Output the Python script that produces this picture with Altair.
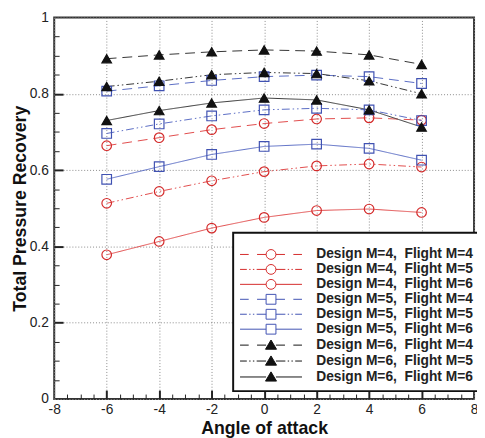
import altair as alt
import pandas as pd

# ---------------- data ----------------
aoa = [-6, -4, -2, 0, 2, 4, 6]
series = [
    "Design M=4,\u00a0 Flight M=4",
    "Design M=4,\u00a0 Flight M=5",
    "Design M=4,\u00a0 Flight M=6",
    "Design M=5,\u00a0 Flight M=4",
    "Design M=5,\u00a0 Flight M=5",
    "Design M=5,\u00a0 Flight M=6",
    "Design M=6,\u00a0 Flight M=4",
    "Design M=6,\u00a0 Flight M=5",
    "Design M=6,\u00a0 Flight M=6",
]
d4f4 = [0.664, 0.685, 0.706, 0.722, 0.734, 0.737, 0.731]
d4f5 = [0.513, 0.544, 0.572, 0.596, 0.611, 0.616, 0.608]
d4f6 = [0.378, 0.413, 0.448, 0.476, 0.494, 0.498, 0.489]
d5f4 = [0.807, 0.821, 0.835, 0.845, 0.849, 0.845, 0.827]
d5f5 = [0.696, 0.721, 0.742, 0.758, 0.762, 0.758, 0.730]
d5f6 = [0.576, 0.609, 0.641, 0.662, 0.668, 0.657, 0.626]
d6f4 = [0.892, 0.902, 0.910, 0.915, 0.912, 0.902, 0.877]
d6f5 = [0.819, 0.833, 0.850, 0.856, 0.853, 0.834, 0.800]
d6f6 = [0.730, 0.756, 0.776, 0.789, 0.784, 0.758, 0.713]
values = [d4f4, d4f5, d4f6, d5f4, d5f5, d5f6, d6f4, d6f5, d6f6]

x_labels = [-8, -6, -4, -2, 0, 2, 4, 6, 8]
y_labels = [0, 0.2, 0.4, 0.6, 0.8, 1]
x_major = [-6, -4, -2, 0, 2, 4, 6]
y_major = [0.2, 0.4, 0.6, 0.8]
x_minor = [v / 2 for v in range(-15, 16) if v % 4 != 0]
y_minor = [round(v / 20, 2) for v in range(1, 20) if v % 4 != 0]

rows = []
for name, vals in zip(series, values):
    for a, v in zip(aoa, vals):
        rows.append({"series": name, "aoa": a, "tpr": v})
df = pd.DataFrame(rows)

# ---------------- styles ----------------
line_colors = ["#e04a4a"] * 3 + ["#5a6cc4"] * 3 + ["#333333"] * 3
marker_colors = ["#d42a2a"] * 3 + ["#4052b2"] * 3 + ["#111111"] * 3
dashes = [[10, 6], [8, 3, 1.5, 3, 1.5, 3], [1, 0]] * 3
shapes = ["circle"] * 3 + ["square"] * 3 + ["triangle-up"] * 3
fills = ["transparent"] * 6 + ["#111111"] * 3

# legend symbols: line sample + marker, drawn as a custom symbol path
SYM_SIZE = 169            # sqrt -> 13 px, symbol unit = 6.5 px
U = 6.5


def seg_path(segs):
    return "".join(f"M{a / U:.3f},0H{b / U:.3f}" for a, b in segs)


def mirror(segs):
    return segs + [(-b, -a) for a, b in segs]


R = 5.0
C = (f"M{-R / U:.3f},0A{R / U:.3f},{R / U:.3f} 0 1,0 {R / U:.3f},0"
     f"A{R / U:.3f},{R / U:.3f} 0 1,0 {-R / U:.3f},0Z")
S = f"M{-R / U:.3f},{-R / U:.3f}H{R / U:.3f}V{R / U:.3f}H{-R / U:.3f}Z"
T = f"M0,{-5.2 / U:.3f}L{5.6 / U:.3f},{4.2 / U:.3f}H{-5.6 / U:.3f}Z"
DASH = seg_path(mirror([(-31.5, -22.7), (-14.2, -5)]))
DDOT = seg_path(mirror([(-31.5, -24.6), (-22.2, -20.8), (-18.4, -17.0), (-14.6, -5)]))
SOLID = seg_path(mirror([(-31.5, -5)]))
legend_paths = []
for mk in [C, S, T]:
    for ln in [DASH, DDOT, SOLID]:
        legend_paths.append(ln + mk)

FONT = "Liberation Sans"
xs = alt.Scale(domain=[-8, 8], nice=False, zero=False)
ys = alt.Scale(domain=[0, 1], nice=False, zero=False)

# main axes: labels + grid
ax_x_main = alt.Axis(orient="bottom", values=x_labels, labelExpr="'' + datum.value",
                     ticks=False, tickSize=0, domain=False, grid=True,
                     gridDash=[1, 2], gridColor="#8a8a8a", gridWidth=1,
                     labelFont=FONT, labelFontSize=14, labelColor="#222222",
                     labelPadding=4, labelFlush=False, labelOverlap=False,
                     titleFont=FONT, titleFontSize=18, titleFontWeight="bold",
                     titleColor="#111111", titlePadding=3)
ax_y_main = alt.Axis(orient="left", values=y_labels, labelExpr="'' + datum.value",
                     ticks=False, tickSize=0, domain=False, grid=True,
                     gridDash=[1, 2], gridColor="#8a8a8a", gridWidth=1,
                     labelFont=FONT, labelFontSize=14, labelColor="#222222",
                     labelPadding=6, labelFlush=False, labelOverlap=False,
                     titleFont=FONT, titleFontSize=18, titleFontWeight="bold",
                     titleColor="#111111", titlePadding=0)
# inward major ticks
ax_x_major = alt.Axis(orient="bottom", values=x_major, labels=False, domain=False,
                      grid=False, ticks=True, tickSize=9, tickWidth=2,
                      tickColor="#222222", offset=-9)
ax_y_major = alt.Axis(orient="left", values=y_major, labels=False, domain=False,
                      grid=False, ticks=True, tickSize=9, tickWidth=2,
                      tickColor="#222222", offset=-9)
# inward minor ticks
ax_x_minor = alt.Axis(orient="bottom", values=x_minor, labels=False, domain=False,
                      grid=False, ticks=True, tickSize=5, tickWidth=1,
                      tickColor="#222222", offset=-5)
ax_y_minor = alt.Axis(orient="left", values=y_minor, labels=False, domain=False,
                      grid=False, ticks=True, tickSize=5, tickWidth=1,
                      tickColor="#222222", offset=-5)

base = alt.Chart(df)

lines = base.mark_line(strokeWidth=1).encode(
    x=alt.X("aoa:Q", scale=xs, axis=ax_x_main, title="Angle of attack"),
    y=alt.Y("tpr:Q", scale=ys, axis=ax_y_main, title="Total Pressure Recovery"),
    color=alt.Color("series:N", scale=alt.Scale(domain=series, range=line_colors), legend=None),
    strokeDash=alt.StrokeDash("series:N", scale=alt.Scale(domain=series, range=dashes), legend=None),
    order=alt.Order("aoa:Q"),
)

points = base.mark_point(size=95, strokeWidth=1.2, opacity=1).encode(
    x=alt.X("aoa:Q", scale=xs, axis=ax_x_major, title=""),
    y=alt.Y("tpr:Q", scale=ys, axis=ax_y_major, title=""),
    shape=alt.Shape("series:N", scale=alt.Scale(domain=series, range=shapes), legend=None),
    color=alt.Color("series:N", scale=alt.Scale(domain=series, range=marker_colors), legend=None),
    fill=alt.Fill("series:N", scale=alt.Scale(domain=series, range=fills), legend=None),
)

leg = alt.Legend(orient="none", legendX=182, legendY=219, title=" ",
                 titleFontSize=6, titlePadding=2,
                 labelFont=FONT, labelFontSize=14, labelFontWeight="bold",
                 labelColor="#222222", labelOffset=39, labelLimit=300,
                 symbolSize=SYM_SIZE, symbolOffset=24.5, symbolStrokeWidth=1,
                 rowPadding=1.2, padding=7, strokeColor="#111111", fillColor="white")

legend_layer = base.transform_filter("false").mark_point(strokeWidth=1, opacity=1).encode(
    x=alt.X("aoa:Q", scale=xs, axis=ax_x_minor, title=""),
    y=alt.Y("tpr:Q", scale=ys, axis=ax_y_minor, title=""),
    shape=alt.Shape("series:N", scale=alt.Scale(domain=series, range=legend_paths), legend=leg),
    color=alt.Color("series:N", scale=alt.Scale(domain=series, range=marker_colors), legend=leg),
    fill=alt.Fill("series:N", scale=alt.Scale(domain=series, range=fills), legend=leg),
)

chart = alt.layer(lines, points, legend_layer).resolve_scale(
    color="independent", shape="independent", fill="independent", strokeDash="independent"
).resolve_axis(
    x="independent", y="independent"
).properties(
    width=427, height=388,
    autosize=alt.AutoSizeParams(type="none"),
    padding={"left": 47, "top": 6, "right": 3, "bottom": 36},
    background="white",
).configure_view(
    stroke="#333333", strokeWidth=2
).configure_legend(
    strokeWidth=2
)

chart.save("out.html", embed_options={"renderer": "svg", "actions": False})
